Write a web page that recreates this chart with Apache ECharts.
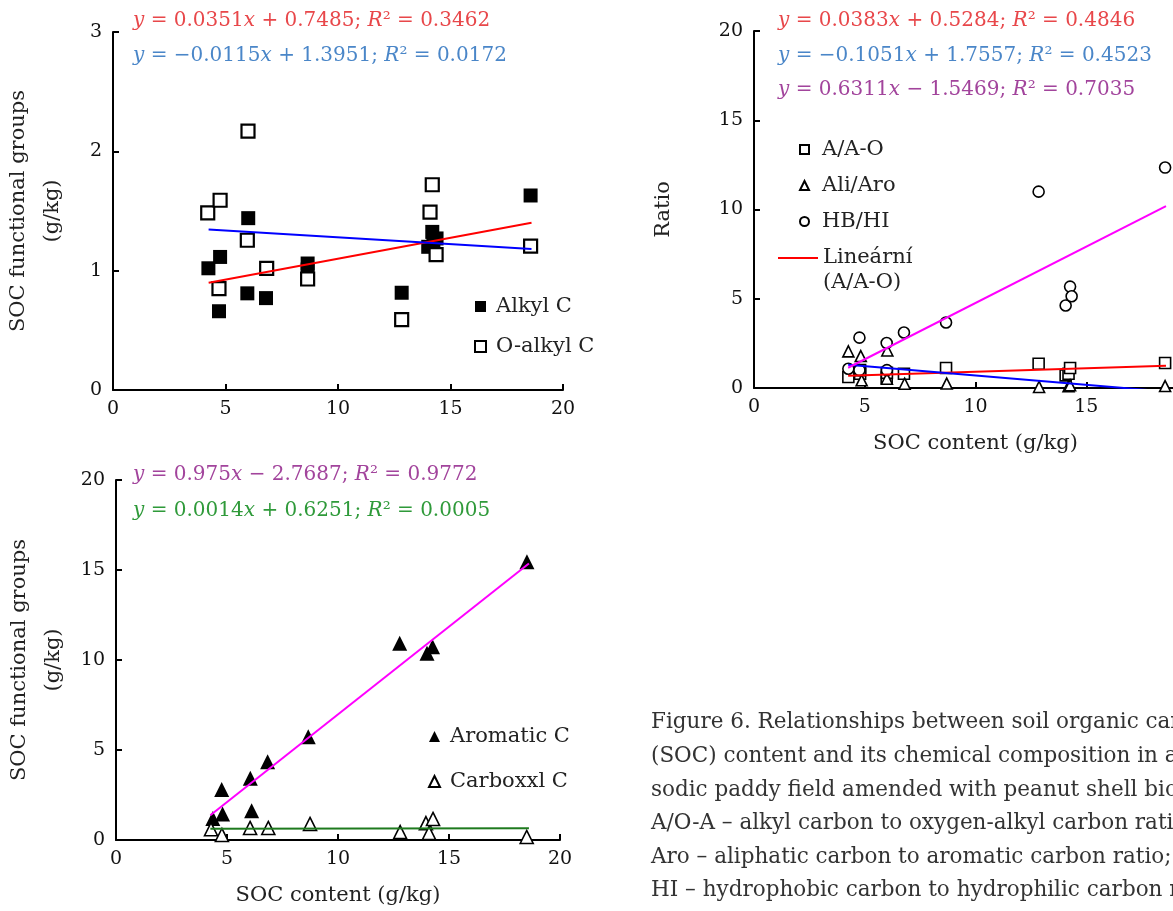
<!DOCTYPE html>
<html>
<head>
<meta charset="utf-8">
<script src="https://cdn.jsdelivr.net/npm/echarts@6/dist/echarts.min.js"></script>
<style>html,body{margin:0;padding:0;background:#fff}#c{width:1173px;height:911px}</style>
</head>
<body>
<div id="c"></div>
<script>
// ---------- data ----------
const alkylC = [[4.24,1.02],[4.76,1.115],[6.01,1.44],[4.71,0.66],[5.97,0.81],[6.8,0.77],[8.65,1.06],[8.65,1.01],[12.83,0.815],[14.19,1.325],[14.24,1.24],[14.38,1.27],[14.01,1.2],[18.56,1.63]];
const oAlkylC = [[4.21,1.485],[4.76,1.59],[5.97,1.255],[6.0,2.17],[4.71,0.85],[6.83,1.02],[8.65,0.93],[12.83,0.59],[14.19,1.72],[14.09,1.49],[14.36,1.135],[18.56,1.205]];
const aao = [[4.26,0.62],[4.79,0.8],[4.79,1.0],[5.99,0.58],[6.0,0.85],[6.77,0.8],[8.67,1.12],[12.85,1.36],[14.07,0.71],[14.2,0.8],[14.27,1.12],[18.56,1.4]];
const aliAro = [[4.26,2.05],[4.82,1.79],[6.02,2.1],[4.86,0.43],[6.0,0.52],[6.8,0.24],[8.7,0.25],[12.87,0.06],[14.2,0.1],[14.27,0.15],[18.56,0.11]];
const hbhi = [[4.26,1.08],[4.76,2.82],[4.76,1.0],[5.99,2.52],[6.0,1.0],[6.77,3.11],[8.67,3.67],[12.85,11.0],[14.07,4.62],[14.27,5.68],[14.34,5.14],[18.56,12.35]];
const aromaticC = [[4.36,1.2],[4.8,1.44],[4.76,2.81],[6.11,1.63],[6.05,3.43],[6.83,4.35],[8.66,5.74],[12.78,10.93],[14.01,10.37],[14.26,10.74],[18.51,15.46]];
const carboxylC = [[4.28,0.6],[4.77,0.28],[6.04,0.67],[6.86,0.67],[8.74,0.89],[12.8,0.44],[13.96,0.94],[14.28,1.17],[14.1,0.39],[18.5,0.17]];

// trend line end points (x from / to, y at each end)
const trendX = [4.25, 18.6];
const alkylFit = [0.898, 1.401];
const oAlkylFit = [1.346, 1.181];
const aaoFit = [0.691, 1.241];
const aliAroFit = [1.309, -0.199];
const hbhiFit = [1.135, 10.192];
const aromaticFit = [1.375, 15.366];
const carboxylFit = [0.631, 0.651];

const eqTopLeft = ['{i|y} = 0.0351{i|x} + 0.7485; {i|R}² = 0.3462', '{i|y} = −0.0115{i|x} + 1.3951; {i|R}² = 0.0172'];
const eqTopRight = ['{i|y} = 0.0383{i|x} + 0.5284; {i|R}² = 0.4846', '{i|y} = −0.1051{i|x} + 1.7557; {i|R}² = 0.4523', '{i|y} = 0.6311{i|x} − 1.5469; {i|R}² = 0.7035'];
const eqBottom = ['{i|y} = 0.975{i|x} − 2.7687; {i|R}² = 0.9772', '{i|y} = 0.0014{i|x} + 0.6251; {i|R}² = 0.0005'];
const captionLines = [
  'Figure 6. Relationships between soil organic carbon',
  '(SOC) content and its chemical composition in a',
  'sodic paddy field amended with peanut shell biochar.',
  'A/O-A – alkyl carbon to oxygen-alkyl carbon ratio; Ali/',
  'Aro – aliphatic carbon to aromatic carbon ratio; HB/',
  'HI – hydrophobic carbon to hydrophilic carbon ratio'
];

// ---------- styles ----------
const FF = 'DejaVu Serif';
const RED = '#e8474a', BLUE = '#4a86c8', PURPLE = '#a2449c', GREEN = '#2f9a3a';

function pair(fit){ return [[trendX[0], fit[0]], [trendX[1], fit[1]]]; }

function eqTitle(text, color, left, top){
  return {left, top, padding:0, text, textStyle:{color, fontSize:20, fontFamily:FF, fontWeight:'normal',
    rich:{i:{fontStyle:'italic', color, fontSize:20, fontFamily:FF}}}};
}

function xAxis(gi, name){
  return {type:'value', gridIndex:gi, min:0, max:20, interval:5,
    axisLine:{show:true, lineStyle:{color:'#000', width:2}},
    axisTick:{show:true, inside:true, length:6, lineStyle:{color:'#000', width:2}},
    axisLabel:{color:'#111', fontSize:19, fontFamily:FF, margin:10},
    splitLine:{show:false},
    name: name || '', nameLocation:'middle', nameGap:45,
    nameTextStyle:{color:'#222', fontSize:21, fontFamily:FF}};
}
function yAxis(gi, max, interval, name, gap){
  return {type:'value', gridIndex:gi, min:0, max, interval,
    axisLine:{show:true, lineStyle:{color:'#000', width:2}},
    axisTick:{show:true, inside:true, length:6, lineStyle:{color:'#000', width:2}},
    axisLabel:{color:'#111', fontSize:19, fontFamily:FF, margin:11},
    splitLine:{show:false},
    name, nameLocation:'middle', nameGap:gap, nameRotate:90,
    nameTextStyle:{color:'#222', fontSize:21, fontFamily:FF, lineHeight:34}};
}
function scatter(name, data, gi, symbol, size, fill, bw){
  return {type:'scatter', name, data, xAxisIndex:gi, yAxisIndex:gi, symbol, symbolSize:size,
    itemStyle:{color:fill, borderColor:'#000', borderWidth:bw, opacity:1}, z:2};
}
function line(name, data, gi, color){
  return {type:'line', name, data, xAxisIndex:gi, yAxisIndex:gi, showSymbol:false, symbol:'none',
    lineStyle:{color, width:2}, itemStyle:{color}, z:3, clip:true};
}
function legendTextStyle(padLeft){
  return {color:'#222', fontSize:21, fontFamily:FF,
    rich:{t:{color:'#222', fontSize:21, fontFamily:FF, padding:[0,0,0,padLeft]}}};
}
const wrapT = n => '{t|' + n + '}';

const option = {
  backgroundColor:'#fff',
  animation:false,
  title:[
    eqTitle(eqTopLeft[0], RED, 133, 11),
    eqTitle(eqTopLeft[1], BLUE, 133, 46),
    eqTitle(eqTopRight[0], RED, 778, 11),
    eqTitle(eqTopRight[1], BLUE, 778, 46),
    eqTitle(eqTopRight[2], PURPLE, 778, 80),
    eqTitle(eqBottom[0], PURPLE, 133, 465),
    eqTitle(eqBottom[1], GREEN, 133, 501),
    {left:651, top:706, padding:0, text:captionLines.join('\n'),
     textStyle:{color:'#333', fontSize:21.5, fontFamily:FF, fontWeight:'normal', lineHeight:33.6}}
  ],
  grid:[
    {left:113, top:32, width:450, height:358, outerBoundsMode:'none', containLabel:false},
    {left:754, top:31, width:443, height:357, outerBoundsMode:'none', containLabel:false},
    {left:116, top:480, width:444, height:360, outerBoundsMode:'none', containLabel:false}
  ],
  xAxis:[xAxis(0), xAxis(1, 'SOC content (g/kg)'), xAxis(2, 'SOC content (g/kg)')],
  yAxis:[
    yAxis(0, 3, 1, 'SOC functional groups\n(g/kg)', 43),
    yAxis(1, 20, 5, 'Ratio', 73),
    yAxis(2, 20, 5, 'SOC functional groups\n(g/kg)', 45)
  ],
  legend:[
    {orient:'vertical', left:469, top:291, itemGap:19, itemWidth:11, itemHeight:11,
     textStyle:legendTextStyle(5), formatter:wrapT,
     data:['Alkyl C','O-alkyl C']},
    {orient:'vertical', left:794, top:134, itemGap:15, itemWidth:9, itemHeight:9,
     textStyle:legendTextStyle(8), formatter:wrapT,
     data:['A/A-O','Ali/Aro','HB/HI']},
    {orient:'vertical', left:773, top:240, itemWidth:40, itemHeight:27, itemGap:0,
     textStyle:{color:'#222', fontSize:21, fontFamily:FF, lineHeight:25},
     formatter: n => n.replace(' ', '\n'),
     data:[{name:'Lineární (A/A-O)', icon:'path://M0,0h40v2h-40z M0,26h0.1v0.1h-0.1z'}]},
    {orient:'vertical', left:423, top:721, itemGap:24, itemWidth:11, itemHeight:11,
     textStyle:legendTextStyle(5), formatter:wrapT,
     data:['Aromatic C','Carboxxl C']}
  ],
  series:[
    scatter('Alkyl C', alkylC, 0, 'rect', 14, '#000', 0),
    scatter('O-alkyl C', oAlkylC, 0, 'rect', 13, '#fff', 2.2),
    line('Alkyl fit', pair(alkylFit), 0, '#ff0000'),
    line('O-alkyl fit', pair(oAlkylFit), 0, '#0000ff'),

    scatter('A/A-O', aao, 1, 'rect', 11, '#fff', 1.6),
    scatter('Ali/Aro', aliAro, 1, 'triangle', 11, '#fff', 1.6),
    scatter('HB/HI', hbhi, 1, 'circle', 11, '#fff', 1.6),
    line('Lineární (A/A-O)', pair(aaoFit), 1, '#ff0000'),
    line('Ali/Aro fit', pair(aliAroFit), 1, '#0000ff'),
    line('HB/HI fit', pair(hbhiFit), 1, '#ff00ff'),

    scatter('Aromatic C', aromaticC, 2, 'triangle', 15, '#000', 0),
    scatter('Carboxxl C', carboxylC, 2, 'triangle', 13, '#fff', 1.6),
    line('Aromatic fit', pair(aromaticFit), 2, '#ff00ff'),
    line('Carboxyl fit', pair(carboxylFit), 2, '#1e7a1e')
  ]
};
const chart = echarts.init(document.getElementById('c'), null, {renderer:'canvas'});
chart.setOption(option);
</script>
</body>
</html>
